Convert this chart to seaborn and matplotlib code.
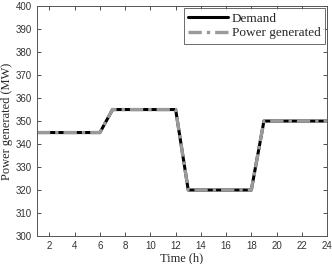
import numpy as np
import pandas as pd
import matplotlib
matplotlib.use('Agg')
import matplotlib.pyplot as plt
import seaborn as sns

hours = list(range(1, 25))
demand = [345] * 6 + [355] * 6 + [320] * 6 + [350] * 6
generated = [345] * 6 + [355] * 6 + [320] * 6 + [350] * 6

df = pd.DataFrame({'Time': hours, 'Demand': demand, 'Power generated': generated})

sns.set_style('ticks')
plt.rcParams['font.family'] = ['Liberation Sans', 'DejaVu Sans']

fig = plt.figure(figsize=(3.32, 2.64), dpi=100)
ax = fig.add_axes([0.111, 0.106, 0.874, 0.871])

sns.lineplot(data=df, x='Time', y='Demand', ax=ax, color='black', linewidth=2.2,
             label='Demand')
sns.lineplot(data=df, x='Time', y='Power generated', ax=ax, color='#9a9a9a',
             linewidth=2.4, linestyle=(0, (4, 1.5, 1, 1.5)), label='Power generated')

ax.set_xlim(1, 24)
ax.set_ylim(300, 400)
ax.set_xticks(range(2, 25, 2))
ax.set_yticks(range(300, 401, 10))
ax.tick_params(direction='in', length=3, labelsize=7, top=True, right=True,
               width=0.6, colors='#333333', labelcolor='#333333')
for s in ax.spines.values():
    s.set_linewidth(0.7)
    s.set_color('#555555')

serif = {'family': 'Liberation Serif', 'size': 9}
ax.set_xlabel('Time (h)', fontdict=serif, labelpad=1)
ax.set_ylabel('Power generated (MW)', fontdict=serif, labelpad=2)

leg = ax.legend(loc='upper right', prop={'family': 'Liberation Serif', 'size': 9.5},
                frameon=True, fancybox=False, edgecolor='#444444',
                borderpad=0.35, labelspacing=0.15, handlelength=3.0,
                handletextpad=0.3, borderaxespad=0.15)
leg.get_frame().set_linewidth(0.7)

fig.savefig('out.png', dpi=100)
